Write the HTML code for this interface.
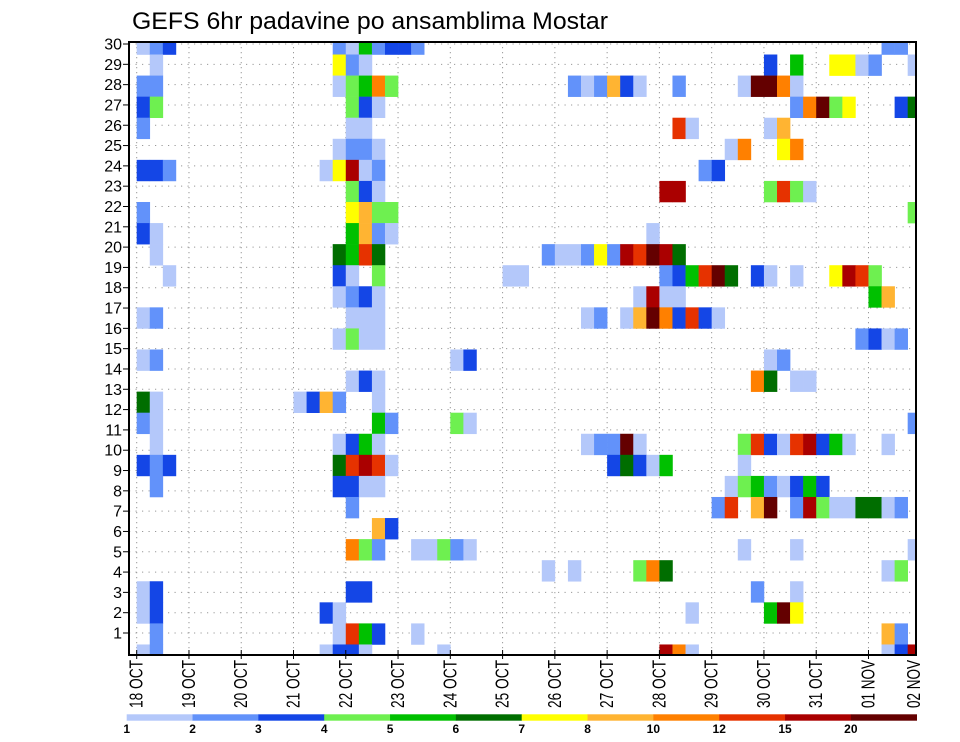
<!DOCTYPE html>
<html><head><meta charset="utf-8"><title>GEFS 6hr padavine Mostar</title>
<style>
html,body{margin:0;padding:0;background:#fff;}
svg{display:block;font-family:"Liberation Sans",sans-serif;}
</style></head>
<body>
<svg id="chart" width="960" height="742" viewBox="0 0 960 742" xmlns="http://www.w3.org/2000/svg">
<defs><clipPath id="plotclip"><rect x="129" y="42" width="787" height="613"/></clipPath></defs>
<text x="132" y="29" font-size="24" textLength="476" lengthAdjust="spacingAndGlyphs" fill="#000">GEFS 6hr padavine po ansamblima Mostar</text>
<g id="grid"></g>
<g id="cells" clip-path="url(#plotclip)"></g>
<g id="axes"></g>
<g id="legend"></g>
</svg>
<script>
// ---- data ----
const dayLabels = ["18 OCT","19 OCT","20 OCT","21 OCT","22 OCT","23 OCT","24 OCT","25 OCT","26 OCT","27 OCT","28 OCT","29 OCT","30 OCT","31 OCT","01 NOV","02 NOV"];
const memberTicks = [1,2,3,4,5,6,7,8,9,10,11,12,13,14,15,16,17,18,19,20,21,22,23,24,25,26,27,28,29,30];
const levelBounds = [1,2,3,4,5,6,7,8,10,12,15,20];
const levelColors = ["#b4c8fa","#6292fa","#1446e6","#6ef050","#00c000","#006e00","#ffff00","#ffb432","#ff8000","#e63200","#aa0000","#640000"];
const memberIds = [30,29,28,27,26,25,24,23,22,21,20,19,18,17,16,15,14,13,12,11,10,9,8,7,6,5,4,3,2,1];
const stepIdx = [
[0,1,2,15,16,17,18,19,20,21,57,58],
[1,15,16,17,48,50,53,54,55,56,59],
[0,1,15,16,17,18,19,33,34,35,36,37,38,41,46,47,48,49,50],
[0,1,16,17,18,50,51,52,53,54,58,59],
[0,16,17,41,42,48,49],
[15,16,17,18,45,46,49,50],
[0,1,2,14,15,16,17,18,43,44],
[16,17,18,40,41,48,49,50,51],
[0,16,17,18,19,59],
[0,1,16,17,18,19,39],
[1,15,16,17,18,31,32,33,34,35,36,37,38,39,40,41],
[2,15,16,18,28,29,40,41,42,43,44,45,47,48,50,53,54,55,56],
[15,16,17,18,38,39,40,41,56,57],
[0,1,16,17,18,34,35,37,38,39,40,41,42,43,44],
[15,16,17,18,55,56,57,58],
[0,1,24,25,48,49],
[16,17,18,47,48,50,51],
[0,1,12,13,14,15,18],
[0,1,18,19,24,25,59],
[1,15,16,17,18,34,35,36,37,38,46,47,48,49,50,51,52,53,54,57],
[0,1,2,15,16,17,18,19,36,37,38,39,40,46],
[1,15,16,17,18,45,46,47,48,49,50,51,52],
[16,44,45,47,48,50,51,52,53,54,55,56,57,58],
[18,19],
[16,17,18,21,22,23,24,25,46,50,59],
[31,33,38,39,40,57,58],
[0,1,16,17,47,50],
[0,1,14,15,42,48,49,50],
[1,15,16,17,18,21,57,58],
[0,1,14,15,16,17,23,40,41,42,57,58,59]
];
const rainMM = [
[1.5,2.5,3.5,2.5,1.5,5.5,2.5,3.5,3.5,2.5,2.5,2.5],
[1.5,7.5,2.5,1.5,3.5,5.5,7.5,7.5,1.5,2.5,1.5],
[2.5,2.5,1.5,4.5,5.5,11,4.5,2.5,1.5,2.5,9,3.5,1.5,2.5,1.5,22,22,11,1.5],
[3.5,4.5,4.5,3.5,1.5,2.5,11,22,4.5,7.5,3.5,6.5],
[2.5,1.5,1.5,13,1.5,1.5,9],
[1.5,2.5,2.5,1.5,1.5,11,7.5,11],
[3.5,3.5,2.5,1.5,7.5,17,1.5,2.5,2.5,3.5],
[4.5,3.5,1.5,17,17,4.5,13,4.5,1.5],
[2.5,7.5,9,4.5,4.5,4.5],
[3.5,1.5,5.5,9,2.5,1.5,1.5],
[1.5,6.5,5.5,13,6.5,2.5,1.5,1.5,2.5,7.5,2.5,17,13,22,17,6.5],
[1.5,3.5,1.5,4.5,1.5,1.5,2.5,3.5,5.5,13,22,6.5,3.5,1.5,1.5,7.5,17,13,4.5],
[1.5,2.5,3.5,1.5,1.5,17,1.5,1.5,5.5,9],
[1.5,2.5,1.5,1.5,1.5,1.5,2.5,1.5,9,22,11,3.5,13,3.5,1.5],
[1.5,4.5,1.5,1.5,2.5,3.5,1.5,2.5],
[1.5,2.5,1.5,3.5,1.5,2.5],
[1.5,3.5,1.5,11,6.5,1.5,1.5],
[6.5,1.5,1.5,3.5,9,2.5,1.5],
[2.5,1.5,5.5,2.5,4.5,1.5,2.5],
[1.5,1.5,3.5,5.5,1.5,1.5,2.5,2.5,22,1.5,4.5,13,3.5,1.5,13,17,3.5,5.5,1.5,1.5],
[3.5,2.5,3.5,6.5,13,17,13,1.5,3.5,6.5,3.5,1.5,5.5,1.5],
[2.5,3.5,3.5,1.5,1.5,1.5,4.5,5.5,2.5,1.5,3.5,5.5,3.5],
[2.5,2.5,13,9,22,2.5,17,4.5,1.5,1.5,6.5,6.5,1.5,2.5],
[9,3.5],
[11,4.5,2.5,1.5,1.5,4.5,2.5,1.5,1.5,1.5,1.5],
[1.5,1.5,4.5,11,6.5,1.5,4.5],
[1.5,3.5,3.5,3.5,2.5,1.5],
[1.5,3.5,3.5,1.5,1.5,5.5,22,7.5],
[2.5,1.5,13,5.5,3.5,1.5,9,2.5],
[1.5,2.5,1.5,3.5,3.5,1.5,1.5,17,11,1.5,1.5,3.5,17]
];

// ---- layout / scales ----
const NS = "http://www.w3.org/2000/svg";
const PL = 129, PR = 916, PT = 42, PB = 655;
const DAY_X0 = 136.7, DAY_W = 52.27;
function xHour(h){ return DAY_X0 + h * DAY_W / 24; }
function yMember(m){ return 655 - (m - 1) * 21.07; }   // cell grid
function yTick(v){ return 633 - (v - 1) * 20.31; }     // axis labels
function colorFor(v){
  let idx = -1;
  for (let i = 0; i < levelBounds.length; i++) if (v >= levelBounds[i]) idx = i;
  return idx < 0 ? null : levelColors[idx];
}
function mk(tag, attrs, parent){
  const e = document.createElementNS(NS, tag);
  for (const k in attrs) e.setAttribute(k, attrs[k]);
  parent.appendChild(e);
  return e;
}
const grid = document.getElementById('grid');
const cells = document.getElementById('cells');
const axes = document.getElementById('axes');
const legend = document.getElementById('legend');

// grid lines
dayLabels.forEach((d, i) => {
  const x = DAY_X0 + i * DAY_W;
  if (x > PL && x < PR) {
    const l = mk('line', {x1:x, x2:x, y1:PT, y2:PB, stroke:'#999', 'stroke-width':1, 'stroke-dasharray':'1.2,3.8'}, grid);
    
    
  }
});
memberTicks.forEach(v => {
  const y = yTick(v);
  const l = mk('line', {x1:PL, x2:PR, y1:y, y2:y, stroke:'#999', 'stroke-width':1, 'stroke-dasharray':'1.2,5.3'}, grid);
  
  
});

// cells
memberIds.forEach((m, r) => {
  stepIdx[r].forEach((k, j) => {
    const c = colorFor(rainMM[r][j]);
    if (!c) return;
    const x0 = xHour(k * 6), x1 = xHour(k * 6 + 6);
    const yc = yMember(m);
    const rc = mk('rect', {x:x0, y:yc - 10.535, width:x1 - x0 + 0.3, height:21.07 + 0.3, fill:c}, cells);
    
    
  });
});

// frame
const fr = mk('rect', {x:PL, y:PT, width:PR - PL, height:PB - PT, fill:'none', stroke:'#000', 'stroke-width':2}, axes);



// y ticks
memberTicks.forEach(v => {
  const y = yTick(v);
  const t = mk('line', {x1:PL - 6, x2:PL, y1:y, y2:y, stroke:'#000', 'stroke-width':1}, axes);
  
  
  const tx = mk('text', {x:122, y:y + 5.5, 'font-size':16, 'text-anchor':'end', fill:'#000'}, axes);
  
  
  tx.textContent = String(v);
});

// x ticks + labels
dayLabels.forEach((d, i) => {
  let x = DAY_X0 + i * DAY_W;
  if (x < PR) {
    const t = mk('line', {x1:x, x2:x, y1:PB - 5, y2:PB + 4, stroke:'#000', 'stroke-width':1}, axes);
    
    
  }
  const lx = Math.min(x, 914);
  const tx = mk('text', {x:0, y:0, 'font-size':18, textLength:48, lengthAdjust:'spacingAndGlyphs',
    transform:'translate(' + (lx + 6) + ',708) rotate(-90)', fill:'#000'}, axes);
  
  
  tx.textContent = d;
});

// colorbar
const CB_X0 = 126.7, CB_X1 = 916.7, CB_Y = 714.3, CB_H = 6.4;
const segW = (CB_X1 - CB_X0) / levelColors.length;
levelColors.forEach((c, i) => {
  const r = mk('rect', {x:CB_X0 + i * segW, y:CB_Y, width:segW + 0.3, height:CB_H, fill:c}, legend);
  
  
});
levelBounds.forEach((b, i) => {
  const t = mk('text', {x:CB_X0 + i * segW, y:733, 'font-size':12, 'font-weight':'bold', 'text-anchor':'middle', fill:'#000'}, legend);
  
  
  t.textContent = String(b);
});
</script>
</body></html>
